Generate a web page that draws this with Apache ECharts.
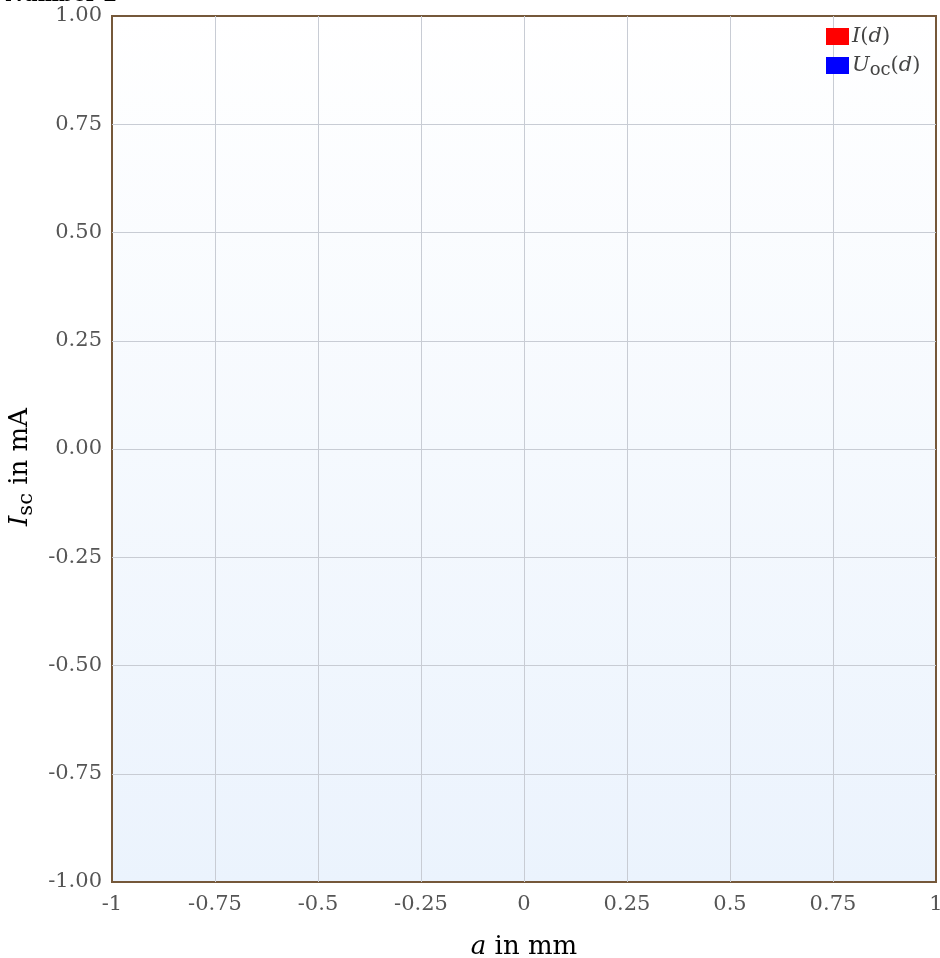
<!DOCTYPE html>
<html>
<head>
<meta charset="utf-8">
<script src="https://cdn.jsdelivr.net/npm/echarts@6/dist/echarts.min.js"></script>
<style>html,body{margin:0;padding:0;background:#fff}#c{width:940px;height:958px}</style>
</head>
<body>
<div id="c"></div>
<script>
const titleText = 'Number 2';
const seriesNames = ['I(d)', 'Uoc(d)'];
const seriesColors = ['#ff0000', '#0000ff'];
const seriesI = [];
const seriesU = [];
const xRange = [-1, 1];
const yRange = [-1, 1];
const xStep = 0.25;
const yStep = 0.25;

const chart = echarts.init(document.getElementById('c'));
const serif = 'DejaVu Serif';
chart.setOption({
  animation: false,
  title: {
    text: titleText, left: 0, top: -19,
    textStyle: {fontFamily: serif, fontWeight: 'bold', fontSize: 20, color: '#000'}
  },
  grid: {
    left: 112, right: 4, top: 16, bottom: 76,
    outerBoundsMode: 'none', containLabel: false,
    show: true,
    borderColor: '#75583a', borderWidth: 2,
    backgroundColor: new echarts.graphic.LinearGradient(0, 0, 0, 1, [
      {offset: 0, color: '#ffffff'}, {offset: 1, color: '#ebf3fd'}
    ])
  },
  legend: {
    left: 826, top: 26, orient: 'vertical', itemGap: 8, padding: 0,
    itemWidth: 23, itemHeight: 17, icon: 'rect',
    data: seriesNames,
    formatter: function (n) {
      if (n === 'I(d)') return '{i|I}{n|(}{i|d}{n|)}';
      return '{i|U}{s|oc}{n|(}{i|d}{n|)}';
    },
    textStyle: {
      fontFamily: serif, color: '#444', fontSize: 21, padding: [0, 0, 0, -2],
      rich: {
        i: {fontFamily: serif, fontStyle: 'italic', fontSize: 21, color: '#444'},
        n: {fontFamily: serif, fontSize: 21, color: '#444'},
        s: {fontFamily: serif, fontSize: 18, color: '#444', padding: [10, 0, 0, 0]}
      }
    }
  },
  xAxis: {
    type: 'value', min: xRange[0], max: xRange[1], interval: xStep,
    name: '{i|a} in mm', nameLocation: 'middle', nameGap: 52,
    nameTextStyle: {fontFamily: serif, fontSize: 26, color: '#000',
      rich: {i: {fontFamily: serif, fontStyle: 'italic', fontSize: 26, color: '#000'},
             n: {fontFamily: serif, fontSize: 26, color: '#000'}}},
    axisLine: {show: false}, axisTick: {show: false},
    axisLabel: {fontFamily: serif, fontSize: 21, color: '#555', margin: 12},
    splitLine: {show: true, showMinLine: false, showMaxLine: false, lineStyle: {color: '#c8ccd4', width: 1}}
  },
  yAxis: {
    type: 'value', min: yRange[0], max: yRange[1], interval: yStep,
    name: '{i|I}{s|sc}{n| in mA}', nameLocation: 'middle', nameGap: 63,
    nameTextStyle: {fontFamily: serif, fontSize: 26, color: '#000', padding: [0, 36, 0, 0],
      rich: {i: {fontFamily: serif, fontStyle: 'italic', fontSize: 26, color: '#000'},
             n: {fontFamily: serif, fontSize: 26, color: '#000'},
             s: {fontFamily: serif, fontSize: 21, color: '#000', padding: [12, 0, 0, 0]}}},
    axisLine: {show: false}, axisTick: {show: false},
    axisLabel: {fontFamily: serif, fontSize: 21, color: '#555', margin: 10,
      formatter: v => v.toFixed(2)},
    splitLine: {show: true, showMinLine: false, showMaxLine: false, lineStyle: {color: '#c8ccd4', width: 1}}
  },
  series: [
    {name: seriesNames[0], type: 'line', data: seriesI, itemStyle: {color: seriesColors[0]}, lineStyle: {color: seriesColors[0]}},
    {name: seriesNames[1], type: 'line', data: seriesU, itemStyle: {color: seriesColors[1]}, lineStyle: {color: seriesColors[1]}}
  ]
});
</script>
</body>
</html>
